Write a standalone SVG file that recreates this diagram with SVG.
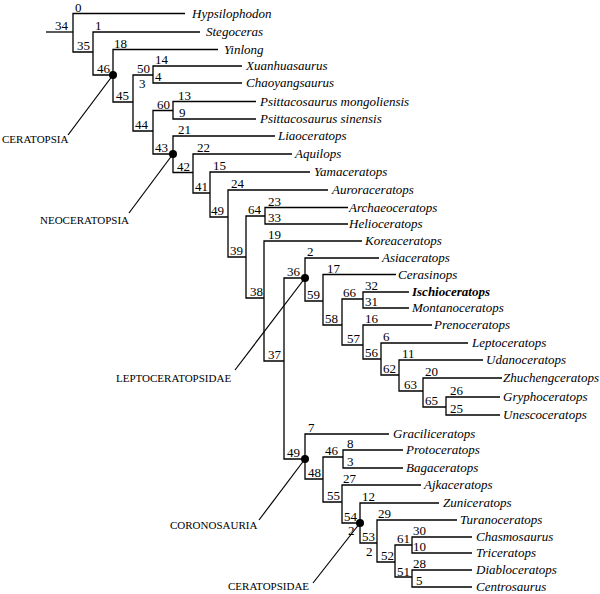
<svg xmlns="http://www.w3.org/2000/svg" width="600" height="594" viewBox="0 0 600 594">
<style>
.e{fill:none;stroke:#000;stroke-width:1.3}
.p{fill:none;stroke:#000;stroke-width:1.2}
.t{font-family:"Liberation Serif","Times New Roman",serif;font-size:13px;font-style:italic;fill:#000}
.b{font-weight:bold}
.n{font-family:"Liberation Serif","Times New Roman",serif;font-size:13px;fill:#000}
.c{font-family:"Liberation Serif","Times New Roman",serif;font-size:11px;fill:#000}
.d{fill:#000}
</style>
<rect width="600" height="594" fill="#fff"/>
<g id="connectors">
<path class="e" d="M46 32H73"/>
<path class="e" d="M185 13.5H73V52H93"/>
<path class="e" d="M200 32H93V75H113"/>
<path class="e" d="M218 49.5H113V102H133"/>
<path class="e" d="M153 75H133V131H153"/>
<path class="e" d="M242 66H153V83H242"/>
<path class="e" d="M173 110.5H153V154H173"/>
<path class="e" d="M256 101.5H173V119H256"/>
<path class="e" d="M275 136H173V172.5H193"/>
<path class="e" d="M292 154H193V193H210"/>
<path class="e" d="M310 172H210V217H228"/>
<path class="e" d="M328 190H228V257H246"/>
<path class="e" d="M265 216H246V298H264"/>
<path class="e" d="M348 207.5H265V224H348"/>
<path class="e" d="M362 241H264V361H284"/>
<path class="e" d="M305 278H284V459H305"/>
<path class="e" d="M379 258H305V301H323"/>
<path class="e" d="M396 274.5H323V325H342"/>
<path class="e" d="M363 299H342V345H363"/>
<path class="e" d="M409 292H363V308H409"/>
<path class="e" d="M432 325H363V359H381"/>
<path class="e" d="M468 343H381V375H399"/>
<path class="e" d="M483 360H399V391H423"/>
<path class="e" d="M502 378H423V407H446"/>
<path class="e" d="M500 397H446V415H500"/>
<path class="e" d="M389 434H305V479H323"/>
<path class="e" d="M343 457H323V502H342"/>
<path class="e" d="M403 450H343V468H403"/>
<path class="e" d="M421 485H342V523H360"/>
<path class="e" d="M439 503H360V543H377"/>
<path class="e" d="M457 520H377V562H395"/>
<path class="e" d="M412 545H395V577H412"/>
<path class="e" d="M472 537H412V553H472"/>
<path class="e" d="M472 570H412V587H472"/>
<path class="p" d="M113 75L68 135"/>
<path class="p" d="M173 154L129 213"/>
<path class="p" d="M305 278L235 370"/>
<path class="p" d="M305 459L259 520"/>
<path class="p" d="M360 523L313 583"/>
</g>
<g id="tip-hypsilophodon"><text class="n" x="75" y="11.5">0</text><text class="t" x="192" y="17.5">Hypsilophodon</text></g>
<g id="tip-stegoceras"><text class="n" x="95" y="30">1</text><text class="t" x="206" y="36">Stegoceras</text></g>
<g id="tip-yinlong"><text class="n" x="114" y="47.5">18</text><text class="t" x="224" y="53.5">Yinlong</text></g>
<g id="tip-xuanhuasaurus"><text class="n" x="155" y="64">14</text><text class="t" x="246" y="70">Xuanhuasaurus</text></g>
<g id="tip-chaoyangsaurus"><text class="n" x="155" y="81">4</text><text class="t" x="246" y="87">Chaoyangsaurus</text></g>
<g id="tip-psittacosaurus-mongoliensis"><text class="n" x="178" y="99.5">13</text><text class="t" x="260" y="105.5">Psittacosaurus mongoliensis</text></g>
<g id="tip-psittacosaurus-sinensis"><text class="n" x="179" y="117">9</text><text class="t" x="260" y="123">Psittacosaurus sinensis</text></g>
<g id="tip-liaoceratops"><text class="n" x="178" y="134">21</text><text class="t" x="278" y="140">Liaoceratops</text></g>
<g id="tip-aquilops"><text class="n" x="197" y="152">22</text><text class="t" x="295" y="158">Aquilops</text></g>
<g id="tip-yamaceratops"><text class="n" x="213" y="170">15</text><text class="t" x="314" y="176">Yamaceratops</text></g>
<g id="tip-auroraceratops"><text class="n" x="231" y="188">24</text><text class="t" x="332" y="194">Auroraceratops</text></g>
<g id="tip-archaeoceratops"><text class="n" x="268" y="205.5">23</text><text class="t" x="349" y="211.5">Archaeoceratops</text></g>
<g id="tip-helioceratops"><text class="n" x="268" y="222">33</text><text class="t" x="349" y="228">Helioceratops</text></g>
<g id="tip-koreaceratops"><text class="n" x="268" y="239">19</text><text class="t" x="365" y="245">Koreaceratops</text></g>
<g id="tip-asiaceratops"><text class="n" x="307" y="256">2</text><text class="t" x="382" y="262">Asiaceratops</text></g>
<g id="tip-cerasinops"><text class="n" x="327" y="272.5">17</text><text class="t" x="398" y="278.5">Cerasinops</text></g>
<g id="tip-ischioceratops"><text class="n" x="365" y="290">32</text><text class="t b" x="412" y="296">Ischioceratops</text></g>
<g id="tip-montanoceratops"><text class="n" x="365" y="306">31</text><text class="t" x="412" y="312">Montanoceratops</text></g>
<g id="tip-prenoceratops"><text class="n" x="365" y="323">16</text><text class="t" x="434" y="329">Prenoceratops</text></g>
<g id="tip-leptoceratops"><text class="n" x="383" y="341">6</text><text class="t" x="472" y="347">Leptoceratops</text></g>
<g id="tip-udanoceratops"><text class="n" x="402" y="358">11</text><text class="t" x="486" y="364">Udanoceratops</text></g>
<g id="tip-zhuchengceratops"><text class="n" x="425" y="376">20</text><text class="t" x="503" y="382">Zhuchengceratops</text></g>
<g id="tip-gryphoceratops"><text class="n" x="450" y="395">26</text><text class="t" x="503" y="401">Gryphoceratops</text></g>
<g id="tip-unescoceratops"><text class="n" x="450" y="413">25</text><text class="t" x="503" y="419">Unescoceratops</text></g>
<g id="tip-graciliceratops"><text class="n" x="308" y="432">7</text><text class="t" x="393" y="438">Graciliceratops</text></g>
<g id="tip-protoceratops"><text class="n" x="347" y="448">8</text><text class="t" x="406" y="454">Protoceratops</text></g>
<g id="tip-bagaceratops"><text class="n" x="347" y="466">3</text><text class="t" x="406" y="472">Bagaceratops</text></g>
<g id="tip-ajkaceratops"><text class="n" x="343" y="483">27</text><text class="t" x="424" y="489">Ajkaceratops</text></g>
<g id="tip-zuniceratops"><text class="n" x="362" y="501">12</text><text class="t" x="443" y="507">Zuniceratops</text></g>
<g id="tip-turanoceratops"><text class="n" x="378" y="518">29</text><text class="t" x="460" y="524">Turanoceratops</text></g>
<g id="tip-chasmosaurus"><text class="n" x="413" y="535">30</text><text class="t" x="476" y="541">Chasmosaurus</text></g>
<g id="tip-triceratops"><text class="n" x="413" y="551">10</text><text class="t" x="476" y="557">Triceratops</text></g>
<g id="tip-diabloceratops"><text class="n" x="413" y="568">28</text><text class="t" x="476" y="574">Diabloceratops</text></g>
<g id="tip-centrosaurus"><text class="n" x="416" y="585">5</text><text class="t" x="476" y="591">Centrosaurus</text></g>
<g id="node-34"><text class="n" x="55" y="30">34</text></g>
<g id="node-35"><text class="n" x="77" y="50">35</text></g>
<g id="node-46a"><text class="n" x="97" y="73">46</text><circle class="d" cx="113" cy="75" r="4"/></g>
<g id="node-45"><text class="n" x="116" y="100">45</text></g>
<g id="node-50"><text class="n" x="137" y="73">50</text><text class="n" x="139" y="88">3</text></g>
<g id="node-44"><text class="n" x="135" y="129">44</text></g>
<g id="node-60"><text class="n" x="157" y="108.5">60</text></g>
<g id="node-43"><text class="n" x="155" y="152">43</text><circle class="d" cx="173" cy="154" r="4"/></g>
<g id="node-42"><text class="n" x="177" y="170.5">42</text></g>
<g id="node-41"><text class="n" x="195" y="191">41</text></g>
<g id="node-49a"><text class="n" x="211" y="215">49</text></g>
<g id="node-39"><text class="n" x="230" y="255">39</text></g>
<g id="node-64"><text class="n" x="248" y="214">64</text></g>
<g id="node-38"><text class="n" x="250" y="296">38</text></g>
<g id="node-37"><text class="n" x="268" y="359">37</text></g>
<g id="node-36"><text class="n" x="287" y="276">36</text><circle class="d" cx="305" cy="278" r="4"/></g>
<g id="node-59"><text class="n" x="307" y="299">59</text></g>
<g id="node-58"><text class="n" x="325" y="323">58</text></g>
<g id="node-66"><text class="n" x="343" y="297">66</text></g>
<g id="node-57"><text class="n" x="347" y="343">57</text></g>
<g id="node-56"><text class="n" x="365" y="357">56</text></g>
<g id="node-62"><text class="n" x="383" y="373">62</text></g>
<g id="node-63"><text class="n" x="404" y="389">63</text></g>
<g id="node-65"><text class="n" x="425" y="405">65</text></g>
<g id="node-49b"><text class="n" x="287" y="457">49</text><circle class="d" cx="305" cy="459" r="4"/></g>
<g id="node-48"><text class="n" x="308" y="477">48</text></g>
<g id="node-46b"><text class="n" x="325" y="455">46</text></g>
<g id="node-55"><text class="n" x="327" y="500">55</text></g>
<g id="node-54"><text class="n" x="344" y="521">54</text><text class="n" x="348" y="535">2</text><circle class="d" cx="360" cy="523" r="4"/></g>
<g id="node-53"><text class="n" x="362" y="541">53</text><text class="n" x="366" y="556">2</text></g>
<g id="node-52"><text class="n" x="381" y="560">52</text></g>
<g id="node-61"><text class="n" x="397" y="543">61</text></g>
<g id="node-51"><text class="n" x="397" y="576">51</text></g>
<g id="clade-ceratopsia"><text class="c" x="2" y="143">CERATOPSIA</text></g>
<g id="clade-neoceratopsia"><text class="c" x="40" y="224">NEOCERATOPSIA</text></g>
<g id="clade-leptoceratopsidae"><text class="c" x="116" y="382">LEPTOCERATOPSIDAE</text></g>
<g id="clade-coronosauria"><text class="c" x="170" y="529">CORONOSAURIA</text></g>
<g id="clade-ceratopsidae"><text class="c" x="228" y="590">CERATOPSIDAE</text></g>
</svg>
